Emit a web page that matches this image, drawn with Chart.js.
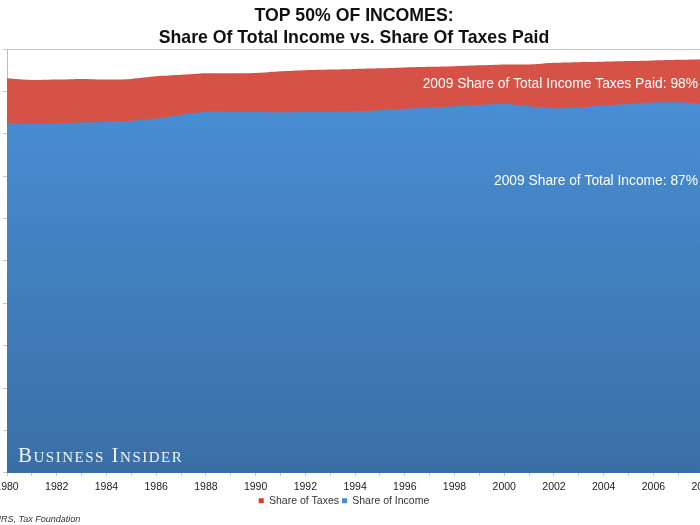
<!DOCTYPE html>
<html>
<head>
<meta charset="utf-8">
<script src="https://cdn.jsdelivr.net/npm/chart.js@4.4.0/dist/chart.umd.min.js"></script>
<style>
    html, body { margin: 0; padding: 0; overflow: hidden; background: #fff; width: 700px; height: 525px; }
    /* the original picture is cropped on both sides, so the canvas hangs past the window */
    #wrap { position: absolute; left: -40px; top: 0; width: 784px; height: 525px; }
</style>
</head>
<body>
<div id="wrap"><canvas id="shareChart" width="784" height="525"></canvas></div>
<script>
    const years = ["1980", "1981", "1982", "1983", "1984", "1985", "1986", "1987", "1988", "1989",
                   "1990", "1991", "1992", "1993", "1994", "1995", "1996", "1997", "1998", "1999",
                   "2000", "2001", "2002", "2003", "2004", "2005", "2006", "2007", "2008", "2009"];

    // share of federal income taxes paid by the top 50%
    const taxShare = [93.1, 92.7, 92.8, 92.95, 92.8, 92.95, 93.55, 93.9, 94.25, 94.3,
                      94.35, 94.75, 95.0, 95.15, 95.3, 95.45, 95.65, 95.8, 95.95, 96.15,
                      96.35, 96.35, 96.75, 96.9, 97.0, 97.15, 97.3, 97.45, 97.6, 97.75];

    // share of total income earned by the top 50%
    const incomeShare = [82.4, 82.3, 82.45, 82.65, 82.85, 83.1, 83.6, 84.5, 85.2, 85.2,
                         85.15, 85.1, 85.15, 85.2, 85.3, 85.55, 85.9, 86.2, 86.5, 86.8,
                         87.0, 86.5, 86.0, 86.2, 86.65, 87.05, 87.4, 87.45, 87.1, 86.9];

    const titleLines = ["TOP 50% OF INCOMES:", "Share Of Total Income vs. Share Of Taxes Paid"];
    const notes = ["2009 Share of Total Income Taxes Paid: 98%", "2009 Share of Total Income: 87%"];

    const RED = "#d65246";
    const BLUE = "#4a8fd6";
    const SMALL_FONT = '"Liberation Sans", Arial, sans-serif';

    function blueFill(context) {
        const area = context.chart.chartArea;
        if (!area) return BLUE;
        const g = context.chart.ctx.createLinearGradient(0, area.top, 0, area.bottom);
        g.addColorStop(0, "#4b92da");
        g.addColorStop(1, "#396fa5");
        return g;
    }

    const textPlugin = {
        id: 'texts',
        afterDatasetsDraw: function (chart) {
            const ctx = chart.ctx;
            ctx.save();
            ctx.fillStyle = "#fff";
            ctx.textAlign = "right";
            ctx.textBaseline = "middle";
            ctx.font = '13.8px "Liberation Sans", Arial, sans-serif';
            ctx.fillText(notes[0], 738, 84);
            ctx.fillText(notes[1], 738, 181);

            // watermark
            ctx.textAlign = "left";
            ctx.textBaseline = "alphabetic";
            ctx.fillStyle = "rgba(255,255,255,0.92)";
            ctx.font = 'small-caps 21px "Liberation Serif", "DejaVu Serif", serif';
            ctx.letterSpacing = "1.5px";
            ctx.fillText("Business Insider", 58, 462);
            ctx.restore();
        },
        afterDraw: function (chart) {
            const ctx = chart.ctx;
            ctx.save();
            ctx.fillStyle = "#111";
            ctx.textAlign = "center";
            ctx.textBaseline = "middle";
            ctx.font = 'bold 17.7px "Liberation Sans", Arial, sans-serif';
            ctx.fillText(titleLines[0], 394, 16);
            ctx.fillText(titleLines[1], 394, 38);

            ctx.textAlign = "left";
            ctx.fillStyle = "#333";
            ctx.font = 'italic 9px "Liberation Sans", Arial, sans-serif';
            const src = "Source: IRS, Tax Foundation";
            const pre = ctx.measureText("Source: I").width;
            ctx.fillText(src, 41 - pre, 519);
            ctx.restore();
        }
    };

    const ctx = document.getElementById('shareChart').getContext('2d');

    const shareChart = new Chart(ctx, {
        type: 'line',
        data: {
            labels: years,
            datasets: [
                {
                    label: "Share of Income",
                    data: incomeShare,
                    backgroundColor: blueFill,
                    borderWidth: 0,
                    pointRadius: 0,
                    fill: 'origin',
                    tension: 0.25
                },
                {
                    label: "Share of Taxes",
                    data: taxShare,
                    backgroundColor: RED,
                    borderWidth: 0,
                    pointRadius: 0,
                    fill: 'origin',
                    tension: 0.25
                }
            ]
        },
        options: {
            responsive: false,
            animation: false,
            devicePixelRatio: 1,
            layout: { padding: { top: 49, right: 16, left: 0, bottom: 9 } },
            plugins: {
                title: { display: false },
                tooltip: { enabled: false },
                legend: {
                    position: 'bottom',
                    reverse: true,
                    labels: {
                        boxWidth: 5,
                        boxHeight: 5,
                        padding: 3,
                        color: "#333",
                        font: { family: SMALL_FONT, size: 10.5 },
                        generateLabels: function (chart) {
                            const items = Chart.defaults.plugins.legend.labels.generateLabels(chart);
                            items.forEach(function (it) {
                                it.fillStyle = it.datasetIndex === 0 ? "#3d8fe0" : "#d9382e";
                                it.lineWidth = 0;
                            });
                            return items;
                        }
                    }
                }
            },
            scales: {
                x: {
                    grid: { drawOnChartArea: false, drawTicks: true, tickLength: 3, color: "#c8c8c8" },
                    border: { color: "#bdbdbd" },
                    ticks: {
                        autoSkip: false,
                        maxRotation: 0,
                        padding: 5,
                        color: "#222",
                        font: { family: SMALL_FONT, size: 10.5 },
                        callback: function (v, i) {
                            return i % 2 === 0 ? this.getLabelForValue(v) : '';
                        }
                    },
                    afterFit: function (scale) { scale.height = scale.height - 6; }
                },
                y: {
                    min: 0,
                    max: 100,
                    ticks: { display: false, stepSize: 10 },
                    grid: { color: "#c8c8c8", drawTicks: true, tickLength: 4 },
                    border: { color: "#bdbdbd" },
                    afterFit: function (scale) { scale.width = 47; }
                }
            }
        },
        plugins: [textPlugin]
    });
</script>
</body>
</html>
